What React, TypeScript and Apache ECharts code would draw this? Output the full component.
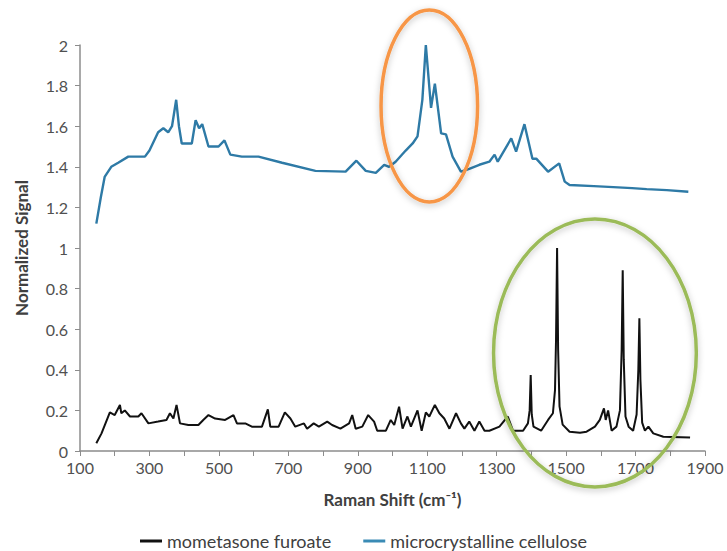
import React, { useEffect, useRef } from "react";
import * as echarts from "echarts";

// microcrystalline cellulose (blue)
const mccShift = [147, 160, 171, 190, 210, 239, 287, 300, 325, 340, 354, 365, 377, 385, 393, 422, 433, 443, 452, 470, 499, 516, 533, 566, 614, 682, 778, 865, 896, 923, 952, 976, 990, 1009, 1038, 1058, 1072, 1086, 1096, 1111, 1122, 1140, 1154, 1173, 1197, 1221, 1250, 1279, 1294, 1303, 1342, 1356, 1380, 1403, 1414, 1448, 1480, 1496, 1510, 1580, 1636, 1690, 1732, 1790, 1852];
const mccSignal = [1.12, 1.25, 1.35, 1.40, 1.42, 1.45, 1.45, 1.48, 1.57, 1.59, 1.57, 1.60, 1.73, 1.60, 1.515, 1.515, 1.63, 1.59, 1.61, 1.50, 1.50, 1.53, 1.46, 1.45, 1.45, 1.42, 1.38, 1.376, 1.43, 1.38, 1.37, 1.41, 1.40, 1.425, 1.48, 1.515, 1.55, 1.73, 2.0, 1.69, 1.81, 1.565, 1.56, 1.45, 1.376, 1.39, 1.41, 1.425, 1.46, 1.425, 1.54, 1.475, 1.61, 1.44, 1.44, 1.376, 1.417, 1.327, 1.31, 1.305, 1.30, 1.295, 1.29, 1.285, 1.277];

// mometasone furoate (black)
const mfShift = [147, 162, 186, 200, 215, 219, 229, 244, 268, 277, 297, 325, 349, 359, 369, 378, 388, 412, 441, 455, 470, 489, 518, 542, 552, 576, 595, 624, 641, 648, 672, 690, 706, 720, 745, 754, 773, 788, 812, 826, 850, 875, 884, 894, 913, 930, 947, 956, 981, 995, 1005, 1019, 1029, 1043, 1053, 1072, 1084, 1096, 1106, 1122, 1135, 1149, 1164, 1183, 1197, 1207, 1221, 1236, 1250, 1265, 1279, 1308, 1332, 1347, 1376, 1390, 1395, 1398, 1401, 1406, 1428, 1448, 1462, 1468, 1471, 1474, 1477, 1481, 1490, 1510, 1540, 1559, 1583, 1597, 1609, 1614, 1621, 1631, 1645, 1655, 1660, 1663, 1666, 1671, 1680, 1693, 1703, 1708, 1711, 1714, 1719, 1727, 1737, 1751, 1780, 1857];
const mfSignal = [0.038, 0.087, 0.19, 0.177, 0.227, 0.186, 0.20, 0.17, 0.17, 0.186, 0.136, 0.145, 0.153, 0.186, 0.16, 0.227, 0.136, 0.128, 0.128, 0.153, 0.177, 0.16, 0.153, 0.177, 0.136, 0.136, 0.12, 0.12, 0.205, 0.12, 0.12, 0.19, 0.16, 0.12, 0.136, 0.11, 0.136, 0.12, 0.145, 0.128, 0.11, 0.136, 0.177, 0.11, 0.12, 0.177, 0.145, 0.10, 0.10, 0.153, 0.128, 0.218, 0.11, 0.17, 0.12, 0.20, 0.10, 0.19, 0.17, 0.227, 0.186, 0.16, 0.11, 0.186, 0.136, 0.11, 0.145, 0.10, 0.145, 0.10, 0.10, 0.12, 0.17, 0.10, 0.10, 0.136, 0.2, 0.374, 0.18, 0.12, 0.10, 0.153, 0.186, 0.3, 0.55, 1.0, 0.5, 0.22, 0.13, 0.095, 0.09, 0.095, 0.12, 0.153, 0.21, 0.153, 0.20, 0.10, 0.12, 0.2, 0.5, 0.89, 0.45, 0.17, 0.12, 0.10, 0.18, 0.4, 0.654, 0.35, 0.14, 0.10, 0.12, 0.087, 0.07, 0.067];

const seriesNames = ["mometasone furoate", "microcrystalline cellulose"];
const xTitle = "Raman Shift (cm\u207B\u00B9)";
const yTitle = "Normalized Signal";

// highlight ellipses in data space: [centerShift, centerSignal, halfWidthShift, halfHeightSignal]
const orangeEllipse = [1106, 1.70, 139, 0.473];
const greenEllipse = [1583, 0.483, 292, 0.66];

const FONT = "Lato, 'Open Sans', sans-serif";

export default function App() {
  const ref = useRef<HTMLDivElement>(null);
  useEffect(() => {
    if (!ref.current) return;
    const chart = echarts.init(ref.current, null, { renderer: "svg" });
    const zip = (xs: number[], ys: number[]) => xs.map((x, i) => [x, ys[i]]);
    chart.setOption({
      animation: false,
      textStyle: { fontFamily: FONT },
      grid: { left: 80, right: 22, top: 45, bottom: 100 },
      legend: {
        bottom: -4,
        left: "center",
        itemGap: 32,
        itemWidth: 22,
        itemHeight: 3,
        icon: "rect",
        textStyle: { fontSize: 18, color: "#404040", fontFamily: FONT },
        data: seriesNames,
      },
      xAxis: {
        type: "value",
        min: 100,
        max: 1900,
        interval: 100,
        name: xTitle,
        nameLocation: "middle",
        nameGap: 40,
        nameTextStyle: { fontSize: 17, fontWeight: "bold", color: "#404040", fontFamily: FONT },
        axisLine: { show: true, lineStyle: { color: "#8c8c8c", width: 1.5 } },
        axisTick: { show: true, inside: false, length: 5, lineStyle: { color: "#8c8c8c" } },
        axisLabel: {
          fontSize: 16,
          color: "#505050",
          margin: 8,
          formatter: (v: number) => ((v - 100) % 200 === 0 ? String(v) : ""),
        },
        splitLine: { show: false },
      },
      yAxis: {
        type: "value",
        min: 0,
        max: 2,
        interval: 0.2,
        name: yTitle,
        nameLocation: "middle",
        nameGap: 50,
        nameRotate: 90,
        nameTextStyle: { fontSize: 17, fontWeight: "bold", color: "#404040", fontFamily: FONT },
        axisLine: { show: true, lineStyle: { color: "#8c8c8c", width: 1.5 } },
        axisTick: { show: true, inside: false, length: 5, lineStyle: { color: "#8c8c8c" } },
        axisLabel: {
          fontSize: 16,
          color: "#505050",
          margin: 12,
          formatter: (v: number) => String(Math.round(v * 10) / 10),
        },
        splitLine: { show: false },
      },
      series: [
        {
          name: seriesNames[0],
          type: "line",
          data: zip(mfShift, mfSignal),
          showSymbol: false,
          symbol: "none",
          lineStyle: { color: "#111111", width: 2 },
          itemStyle: { color: "#111111" },
        },
        {
          name: seriesNames[1],
          type: "line",
          data: zip(mccShift, mccSignal),
          showSymbol: false,
          symbol: "none",
          lineStyle: { color: "#2e7aa6", width: 2.4 },
          itemStyle: { color: "#3a8bb5" },
        },
      ],
    });
    const mk = (e: number[], color: string, lw: number) => {
      const c = chart.convertToPixel({ gridIndex: 0 }, [e[0], e[1]]) as number[];
      const p = chart.convertToPixel({ gridIndex: 0 }, [e[0] + e[2], e[1] + e[3]]) as number[];
      return {
        type: "ellipse",
        z: 100,
        shape: { cx: c[0], cy: c[1], rx: Math.abs(p[0] - c[0]), ry: Math.abs(p[1] - c[1]) },
        style: {
          fill: "none",
          stroke: color,
          lineWidth: lw,
          shadowBlur: 6,
          shadowColor: "rgba(0,0,0,0.25)",
          shadowOffsetY: 2,
        },
      };
    };
    chart.setOption({
      graphic: [mk(orangeEllipse, "#F79646", 3.5), mk(greenEllipse, "#9BBB59", 3.5)],
    });
    return () => chart.dispose();
  }, []);
  return (
    <div
      ref={ref}
      style={{ position: "fixed", left: 0, top: 0, width: 727, height: 551, background: "#fff" }}
    />
  );
}
